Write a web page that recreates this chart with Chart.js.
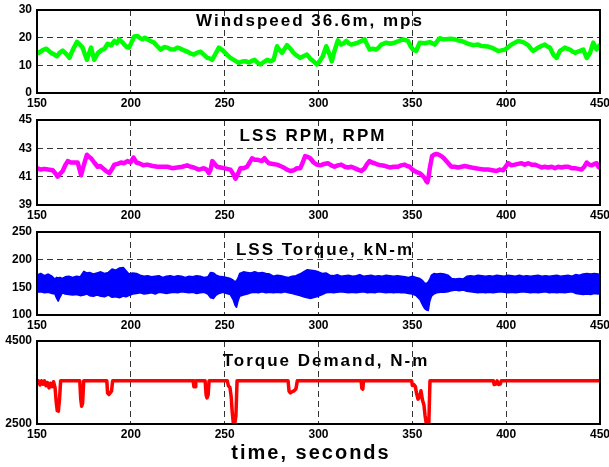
<!DOCTYPE html>
<html>
<head>
<meta charset="utf-8">
<script src="https://cdn.jsdelivr.net/npm/chart.js@4.4.1/dist/chart.umd.min.js"></script>
<style>
body { margin: 0; background: #fff; width: 609px; height: 467px; position: relative; overflow: hidden; font-family: "Liberation Sans", Arial, sans-serif; }
canvas { position: absolute; left: 0; }
.ttl { position: absolute; font-weight: bold; font-size: 17px; line-height: 17px; letter-spacing: 2px; white-space: nowrap; transform: translateX(-50%); color: #000; }
.xttl { position: absolute; font-weight: bold; font-size: 20px; line-height: 20px; letter-spacing: 2px; white-space: nowrap; transform: translateX(-50%); color: #000; }
</style>
</head>
<body>
<canvas id="windChart" width="609" height="109" style="top:2px"></canvas>
<canvas id="rpmChart" width="609" height="111" style="top:112px"></canvas>
<canvas id="torqueChart" width="609" height="109" style="top:224px"></canvas>
<canvas id="demandChart" width="609" height="134" style="top:333px"></canvas>
<div class="ttl" style="left:310px;top:12px">Windspeed 36.6m, mps</div>
<div class="ttl" style="left:313px;top:127px">LSS RPM, RPM</div>
<div class="ttl" style="left:325px;top:241px">LSS Torque, kN-m</div>
<div class="ttl" style="left:326px;top:352px">Torque Demand, N-m</div>
<div class="xttl" style="left:311px;top:442px">time, seconds</div>
<script>
// windspeed at 36.6m (mps)
const windTime = [150, 151, 153, 155, 157.5, 159, 160.7, 162, 163.7, 165.5, 167.3, 169, 171.3, 172.8, 174.3, 175.5, 176.6, 177.8, 178.8, 179.7, 180.5, 182.5, 184.4, 186, 187.6, 189.5, 191.2, 192.5, 193.8, 195.2, 196.5, 198, 199.1, 200.5, 201.8, 203.5, 205, 206.2, 207.5, 208.8, 210.5, 212.4, 214, 215.9, 217.8, 219.5, 221.2, 223, 224.8, 226.5, 228.3, 230, 231.8, 233.6, 235.4, 237.2, 239, 240.7, 242, 243.4, 245, 246.9, 248.3, 249.6, 251.3, 253.1, 255.3, 257.5, 259.3, 261.1, 263, 264.6, 266, 267.5, 269, 270.8, 272.6, 274.3, 276.1, 277.9, 279.2, 280.5, 282, 283.2, 285, 286.7, 288.5, 290.3, 292, 293.8, 295.5, 297.3, 299.1, 300, 302.3, 304.1, 305.9, 307.1, 308.5, 310.3, 312.1, 313.5, 314.8, 316, 317.4, 319.2, 321, 322.8, 324.6, 325.9, 327.2, 329, 330.8, 332.2, 333.5, 336.1, 338.3, 340.6, 342.8, 345, 347.7, 349, 350.4, 352.1, 353.9, 356.6, 359.3, 361.9, 363.3, 364.6, 366.4, 368.1, 370.4, 372.6, 374.4, 376.2, 378, 379.7, 382.4, 385.1, 386.8, 388.6, 390.4, 392.2, 394, 395.7, 397.5, 399.3, 401, 402.8, 404.6, 406.4, 409.1, 411.7, 413, 414.4, 415.7, 417, 418.8, 420.6, 422, 423.3, 425.1, 426.9, 428.6, 430, 431.3, 432.6, 434, 435.3, 436.7, 438, 439.3, 441.1, 442.9, 444.7, 446.4, 448.2, 450];
const windSpeed = [15.0, 14.5, 15.5, 16.0, 14.5, 14.0, 13.3, 14.5, 15.3, 14.2, 12.7, 15.5, 18.5, 17.5, 16.4, 14.0, 12.0, 14.5, 16.4, 14.0, 12.0, 14.5, 15.5, 16.0, 17.8, 17.2, 18.8, 18.0, 19.4, 18.5, 17.5, 16.5, 16.4, 18.5, 20.4, 20.6, 19.8, 19.4, 20.0, 19.4, 18.8, 18.2, 17.0, 15.7, 16.6, 16.4, 15.8, 15.7, 16.4, 16.0, 15.4, 15.0, 14.3, 13.9, 14.6, 14.9, 13.8, 12.7, 12.5, 12.0, 14.0, 16.4, 15.8, 15.0, 13.8, 12.7, 11.8, 10.9, 11.4, 11.5, 11.0, 11.7, 12.0, 11.0, 10.3, 11.2, 12.0, 11.5, 12.0, 16.9, 15.5, 14.5, 16.0, 17.3, 16.0, 14.5, 13.5, 12.7, 13.3, 13.9, 12.5, 11.5, 10.3, 10.9, 13.3, 16.9, 13.9, 11.5, 15.2, 19.0, 17.5, 18.0, 18.8, 18.0, 17.5, 17.8, 18.2, 18.8, 19.4, 17.5, 15.7, 16.0, 15.7, 16.5, 17.5, 18.2, 17.8, 18.2, 18.8, 19.4, 18.8, 17.0, 15.7, 15.2, 18.2, 18.0, 18.4, 17.5, 18.8, 19.8, 19.4, 19.4, 19.6, 19.4, 19.0, 18.8, 18.3, 17.8, 17.3, 17.5, 17.0, 16.9, 16.8, 16.4, 15.8, 15.2, 15.4, 15.7, 16.5, 17.5, 18.2, 18.8, 18.4, 17.3, 16.2, 15.2, 15.8, 16.4, 17.0, 17.5, 16.8, 16.4, 13.9, 12.7, 15.2, 15.8, 16.4, 16.0, 15.7, 15.0, 14.5, 14.9, 15.2, 15.7, 12.7, 14.5, 18.2, 15.7, 17.5];

// low speed shaft rpm
const rpmTime = [150, 152, 154, 156, 158.4, 160, 161, 162.3, 163.7, 165, 166.4, 168, 169.5, 171.7, 172.7, 173.5, 174.9, 176.6, 177.7, 178.8, 180.5, 182.3, 183.7, 185, 186.8, 188.5, 189.8, 191.2, 193, 194.7, 196.5, 198.2, 199.8, 201.4, 203, 204.4, 206.6, 208.8, 211.5, 214.2, 216.8, 219.5, 222, 224.8, 227.4, 230, 231.8, 233.6, 236.3, 238.9, 240.3, 241.6, 242.5, 243.4, 244.7, 246, 247.8, 249.6, 251.3, 253.1, 254.5, 255.8, 257.1, 258.4, 260.2, 261.9, 263.3, 264.6, 266, 267.3, 268.6, 269.9, 271.2, 272.4, 273.5, 275.7, 277.9, 279.7, 281.4, 283.2, 285, 286.8, 288.5, 290.3, 291.6, 292.9, 294.3, 295.6, 297.4, 299.1, 301, 303, 305, 306.8, 308.5, 310.3, 312.1, 314, 315.7, 317.5, 319.2, 321, 322.8, 324.6, 325.9, 327.2, 328.5, 329.9, 331.7, 333.5, 335.7, 337.9, 340, 342.3, 344, 345.9, 347.2, 348.6, 350, 351.2, 352.6, 353.9, 355.2, 356.6, 357.3, 358, 358.7, 359.3, 360.5, 361.6, 362.8, 364.1, 365.5, 366.8, 368.1, 369.5, 370.8, 372.6, 374.4, 376.2, 377.9, 379.7, 381.5, 383.7, 385.9, 388.1, 390.4, 392.6, 394.8, 396.6, 398.4, 399.7, 401.1, 402.8, 404.6, 406.4, 408.2, 409.9, 411.7, 413.5, 415.3, 417.1, 418.9, 420.6, 422.4, 424.2, 426, 427.7, 429.5, 431.3, 433.1, 434.9, 436.7, 438.5, 440.2, 441.6, 442.9, 444.3, 445.6, 447, 448.2, 449.1, 450];
const rpmValue = [41.6, 41.5, 41.55, 41.5, 41.45, 41.2, 41.0, 41.2, 41.4, 41.8, 42.1, 42.0, 42.0, 42.0, 41.5, 41.1, 41.8, 42.55, 42.4, 42.3, 42.0, 41.7, 41.75, 41.6, 41.4, 41.25, 41.5, 41.85, 41.9, 42.0, 41.95, 42.1, 42.0, 42.35, 42.0, 41.95, 41.8, 41.85, 41.75, 41.7, 41.7, 41.7, 41.6, 41.65, 41.7, 41.8, 41.7, 41.65, 41.5, 41.6, 41.5, 41.25, 41.5, 42.1, 41.9, 41.7, 41.65, 41.6, 41.55, 41.5, 41.2, 40.86, 41.2, 41.6, 41.6, 41.7, 42.0, 42.3, 42.2, 42.2, 42.15, 42.1, 42.3, 42.1, 41.95, 41.9, 41.85, 41.75, 41.65, 41.5, 41.4, 41.45, 41.6, 41.6, 42.0, 42.45, 42.4, 42.3, 42.0, 41.85, 41.8, 41.9, 41.95, 41.8, 41.7, 41.8, 41.85, 41.7, 41.65, 41.7, 41.6, 41.5, 41.4, 41.6, 41.9, 42.1, 42.0, 41.95, 41.85, 41.8, 41.75, 41.65, 41.7, 41.7, 41.8, 41.85, 41.75, 41.7, 41.5, 41.4, 41.3, 41.25, 41.1, 40.9, 40.7, 40.6, 41.0, 41.6, 42.45, 42.55, 42.6, 42.55, 42.45, 42.3, 42.1, 41.9, 41.7, 41.7, 41.65, 41.7, 41.75, 41.7, 41.65, 41.6, 41.55, 41.5, 41.5, 41.45, 41.4, 41.5, 41.45, 41.7, 41.95, 41.8, 41.85, 41.9, 41.95, 41.85, 41.95, 41.85, 41.85, 41.75, 41.65, 41.7, 41.65, 41.7, 41.6, 41.7, 41.65, 41.7, 41.7, 41.6, 41.6, 41.55, 41.5, 41.7, 42.0, 41.85, 41.8, 41.9, 41.95, 41.7, 41.6];

// low speed shaft torque, upper and lower edge of the oscillation band
const torqueTime = [150, 152, 154, 156, 158, 159.5, 160.5, 161.3, 162.2, 163.5, 165, 167, 169, 171, 173, 175, 176.5, 178, 180, 182, 184, 186, 188, 190, 192, 194, 196, 197.5, 199, 201, 203, 205, 207, 209, 211, 213, 215, 217, 219, 221, 223, 225, 227, 229, 231, 233, 235, 237, 239, 241, 242.5, 244, 245.5, 247, 249, 251, 253, 254.5, 255.5, 256.3, 257, 258, 260, 262, 264, 266, 268, 270, 272, 274, 276, 278, 280, 282, 284, 286, 288, 290, 292, 294, 296, 298, 300, 302, 304, 306, 308, 310, 312, 314, 316, 318, 320, 322, 324, 326, 328, 330, 332, 334, 336, 338, 340, 342, 344, 346, 348, 350, 352, 354, 355.5, 356.5, 357.5, 358.5, 359.3, 360.2, 361.5, 363, 365, 367, 369, 371, 373, 375, 377, 379, 381, 383, 385, 387, 389, 391, 393, 395, 397, 399, 401, 403, 405, 407, 409, 411, 413, 415, 417, 419, 421, 423, 425, 427, 429, 431, 433, 435, 437, 439, 441, 443, 445, 447, 449, 450];
const torqueHigh = [172, 175, 171, 174, 170, 165, 168, 167, 168, 166, 169, 170, 168, 170, 169, 179, 176, 177, 174, 176, 178, 175, 177, 183, 181, 185, 186, 180, 174, 176, 175, 172, 170, 171, 169, 170, 171, 168, 170, 171, 169, 171, 170, 168, 170, 169, 171, 170, 168, 169, 177, 176, 172, 170, 169, 168, 166, 163, 160, 162, 166, 175, 178, 177, 176, 178, 176, 177, 175, 174, 170, 172, 171, 169, 168, 170, 171, 174, 178, 182, 181, 180, 178, 175, 176, 172, 171, 173, 170, 171, 172, 170, 171, 173, 170, 171, 172, 170, 171, 170, 172, 171, 170, 171, 170, 169, 168, 170, 168, 166, 162, 158, 157, 160, 165, 172, 175, 174, 175, 174, 172, 166, 165, 166, 165, 170, 171, 170, 172, 171, 170, 171, 170, 172, 171, 170, 172, 171, 170, 172, 170, 171, 170, 171, 172, 170, 171, 170, 171, 172, 170, 171, 172, 170, 173, 172, 174, 175, 174, 175, 174, 173];
const torqueLow = [141, 142, 140, 141, 139, 138, 130, 125, 132, 140, 138, 137, 136, 137, 135, 136, 138, 135, 134, 136, 134, 133, 136, 132, 133, 131, 134, 133, 135, 138, 139, 140, 138, 139, 140, 138, 141, 140, 139, 140, 141, 140, 142, 141, 140, 141, 139, 140, 141, 138, 131, 130, 136, 139, 141, 139, 137, 128, 118, 114, 124, 134, 136, 138, 140, 141, 140, 142, 140, 141, 140, 141, 140, 142, 140, 139, 137, 135, 133, 131, 130, 132, 134, 137, 140, 141, 140, 141, 142, 141, 140, 141, 140, 141, 142, 140, 141, 140, 142, 141, 140, 141, 140, 141, 140, 140, 139, 138, 135, 128, 118, 112, 109, 108, 125, 134, 138, 140, 141, 141, 142, 144, 145, 144, 145, 143, 142, 141, 140, 141, 140, 141, 140, 141, 142, 141, 140, 141, 140, 141, 142, 141, 140, 141, 140, 141, 142, 140, 141, 140, 141, 140, 141, 142, 139, 138, 137, 138, 137, 139, 138, 139];

// generator torque demand (N-m)
const demandTime = [150, 150.8, 151.6, 152.4, 153.2, 154, 154.8, 155.6, 156.4, 157.2, 158, 158.8, 159.6, 160.2, 160.8, 161.4, 162, 162.6, 172.8, 173.3, 173.8, 174.3, 174.9, 187.2, 187.6, 188.3, 189, 189.7, 190.3, 233.2, 233.6, 234.2, 234.6, 239.6, 240.1, 240.6, 241.2, 241.7, 251.4, 252, 252.8, 253.5, 254, 254.6, 255.4, 256, 256.6, 283.8, 284.3, 285, 286, 287, 288, 288.7, 322.7, 323.1, 323.6, 324, 349.6, 350, 350.8, 351.6, 352.2, 353, 353.8, 354.6, 355.4, 356.2, 356.8, 357.4, 358.2, 358.8, 359.4, 393.2, 393.6, 394.4, 395.2, 396, 396.8, 397.4, 450];
const demandValue = [3470, 3540, 3440, 3540, 3460, 3540, 3420, 3500, 3370, 3480, 3400, 3520, 3380, 3050, 2820, 2810, 3100, 3540, 3540, 3100, 2930, 3000, 3540, 3540, 3250, 3210, 3250, 3290, 3540, 3540, 3400, 3400, 3540, 3540, 3200, 3130, 3200, 3540, 3540, 3420, 3380, 3150, 2800, 2520, 2520, 2700, 3540, 3540, 3290, 3250, 3280, 3300, 3350, 3540, 3540, 3360, 3340, 3540, 3540, 3430, 3450, 3400, 3250, 3100, 3150, 3300, 3080, 2950, 2700, 2520, 2520, 2530, 3540, 3540, 3450, 3460, 3540, 3450, 3460, 3540, 3540];

function toPoints(xs, ys) {
    return xs.map((x, i) => ({ x: x, y: ys[i] }));
}

// MATLAB style box around the axes
const boxPlugin = {
    id: 'box',
    afterDatasetsDraw(chart) {
        const a = chart.chartArea;
        const ctx = chart.ctx;
        ctx.save();
        ctx.setLineDash([]);
        ctx.strokeStyle = '#000';
        ctx.lineWidth = 2;
        ctx.strokeRect(a.left, a.top, a.right - a.left, a.bottom - a.top);
        ctx.restore();
    }
};

const tickFont = { family: '"Liberation Sans", Arial, sans-serif', size: 12, weight: 'bold' };

function makePanel(id, datasets, yMin, yMax, yStep, xHeight) {
    const ctx = document.getElementById(id).getContext('2d');
    return new Chart(ctx, {
        type: 'line',
        data: { datasets: datasets },
        options: {
            responsive: false,
            animation: false,
            devicePixelRatio: 1,
            layout: { autoPadding: false, padding: { top: 8, right: 9, left: 0, bottom: 0 } },
            plugins: { legend: { display: false }, tooltip: { enabled: false } },
            elements: { point: { radius: 0 }, line: { tension: 0, borderJoinStyle: 'round' } },
            scales: {
                x: {
                    type: 'linear',
                    min: 150,
                    max: 450,
                    afterFit: scale => {
                        scale.height = xHeight;
                        scale.paddingLeft = 0;
                        scale.paddingRight = 0;
                    },
                    ticks: { stepSize: 50, autoSkip: false, maxRotation: 0, padding: 3, color: '#000', font: tickFont, callback: v => String(v) },
                    grid: { color: '#333', lineWidth: 1, drawTicks: false },
                    border: { display: false, dash: [6, 4] }
                },
                y: {
                    min: yMin,
                    max: yMax,
                    afterFit: scale => {
                        scale.width = 37;
                        scale.paddingTop = 0;
                        scale.paddingBottom = 0;
                    },
                    ticks: { stepSize: yStep, padding: 5, color: '#000', font: tickFont, callback: v => String(v) },
                    grid: { color: '#333', lineWidth: 1, drawTicks: false },
                    border: { display: false, dash: [6, 4] }
                }
            }
        },
        plugins: [boxPlugin]
    });
}

makePanel('windChart', [{
    data: toPoints(windTime, windSpeed),
    borderColor: '#00ff00',
    borderWidth: 4.5,
    fill: false
}], 0, 30, 10, 18);

makePanel('rpmChart', [{
    data: toPoints(rpmTime, rpmValue),
    borderColor: '#ff00ff',
    borderWidth: 4.5,
    fill: false
}], 39, 45, 2, 18);

makePanel('torqueChart', [{
    data: toPoints(torqueTime, torqueLow),
    borderColor: '#0000ff',
    borderWidth: 1.5,
    fill: false
}, {
    data: toPoints(torqueTime, torqueHigh),
    borderColor: '#0000ff',
    backgroundColor: '#0000ff',
    borderWidth: 1.5,
    fill: '-1'
}], 100, 250, 50, 18);

makePanel('demandChart', [{
    data: toPoints(demandTime, demandValue),
    borderColor: '#ff0000',
    borderWidth: 3.5,
    fill: false
}], 2500, 4500, 2000, 43);
</script>
</body>
</html>
